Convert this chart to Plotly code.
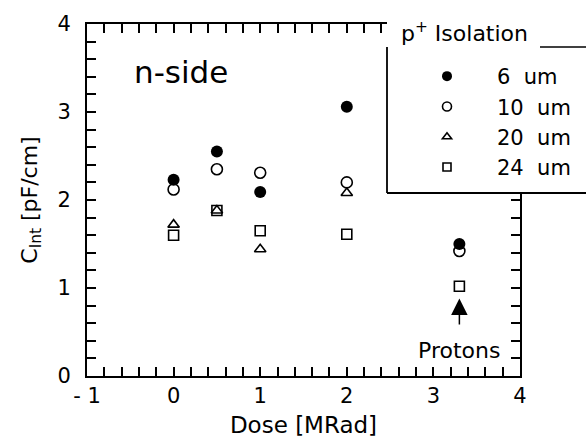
import plotly.graph_objects as go

# ---- data ----
dose = [0, 0.5, 1, 2, 3.3]
c_6um = [2.23, 2.55, 2.09, 3.06, 1.50]
c_10um = [2.12, 2.35, 2.31, 2.20, 1.42]
dose_20 = [0, 0.5, 1, 2]
c_20um = [1.72, 1.88, 1.44, 2.08]
c_24um = [1.60, 1.88, 1.65, 1.61, 1.02]

series_names = ["6\u00a0\u00a0um", "10\u00a0\u00a0um", "20\u00a0\u00a0um", "24\u00a0\u00a0um"]
x_label_alias = {"\u22121": "-\u00a01", "-1": "-\u00a01", "\u22121.0": "-\u00a01", "0.0": "0",
                 "1.0": "1", "2.0": "2", "3.0": "3", "4.0": "4"}
y_label_alias = {"0.0": "0", "1.0": "1", "2.0": "2", "3.0": "3", "4.0": "4"}
proton_dose = 3.3

FONT = "DejaVu Sans"
W, H = 586, 445
L, R, T, B = 87, 66, 24, 69

def px_x(p):
    return (p - L) / (W - L - R)

def px_y(p):
    return (H - B - p) / (H - T - B)

fig = go.Figure()

styles = [
    dict(symbol="circle", size=12, color="black", line=dict(width=0)),
    dict(symbol="circle-open", size=11, color="black", line=dict(width=1.6)),
    dict(symbol="triangle-up-open", size=10, color="black", line=dict(width=1.6)),
    dict(symbol="square-open", size=10, color="black", line=dict(width=1.6)),
]
legend_sizes = [10, 9, 8, 8]
xs = [dose, dose, dose_20, dose]
ys = [c_6um, c_10um, c_20um, c_24um]

for i in range(4):
    fig.add_trace(go.Scatter(x=xs[i], y=ys[i], mode="markers", marker=styles[i],
                             showlegend=False, hoverinfo="skip"))
for i in range(4):
    st = dict(styles[i])
    st["size"] = legend_sizes[i]
    fig.add_trace(go.Scatter(x=[None], y=[None], mode="markers", marker=st,
                             name=series_names[i], showlegend=True))

axis_common = dict(
    ticks="inside", ticklen=9, tickwidth=1.6, tickcolor="#000000",
    dtick=0.2, tick0=0, ticklabelstep=5,
    showline=True, linewidth=2, linecolor="#000000", mirror="ticks",
    showgrid=False, zeroline=False,
    tickfont=dict(family=FONT, size=21, color="black"),
)

fig.update_xaxes(range=[-1, 4], labelalias=x_label_alias,
                 title=dict(text="Dose [MRad]", font=dict(family=FONT, size=23, color="black"), standoff=10),
                 **axis_common)
fig.update_yaxes(range=[0, 4], labelalias=y_label_alias, ticklabelstandoff=10,
                 title=dict(text="C<sub>Int</sub> [pF/cm]", font=dict(family=FONT, size=22, color="black"), standoff=14),
                 **axis_common)

# legend box (white panel covering the top-right corner)
bx0, by0, by1 = px_x(387), px_y(193), px_y(47)
fig.add_shape(type="rect", xref="paper", yref="paper", x0=bx0, x1=1.3, y0=by0, y1=1.2,
              fillcolor="white", line=dict(width=0), layer="above")
fig.add_shape(type="line", xref="paper", yref="paper", x0=bx0, x1=bx0, y0=by0, y1=by1,
              line=dict(color="black", width=1.8), layer="above")
fig.add_shape(type="line", xref="paper", yref="paper", x0=bx0, x1=1.3, y0=by0, y1=by0,
              line=dict(color="black", width=1.8), layer="above")
fig.add_shape(type="line", xref="paper", yref="paper", x0=px_x(540), x1=1.3, y0=by1, y1=by1,
              line=dict(color="black", width=1.5), layer="above")

fig.add_annotation(text="p<sup>+</sup> Isolation", xref="paper", yref="paper",
                   x=px_x(399), y=px_y(32), xanchor="left", yanchor="middle", showarrow=False,
                   font=dict(family=FONT, size=22, color="black"))

fig.add_annotation(text="n-side", x=0.08, y=3.45, showarrow=False,
                   font=dict(family=FONT, size=31, color="black"))

fig.add_annotation(text="Protons", x=proton_dose, y=0.88, ax=0, ay=52,
                   showarrow=True, arrowhead=2, arrowsize=2.2, arrowwidth=1.5, arrowcolor="black",
                   startstandoff=12,
                   font=dict(family=FONT, size=22, color="black"))

fig.update_layout(
    template="none",
    width=W, height=H,
    margin=dict(l=L, r=R, t=T, b=B, autoexpand=False),
    paper_bgcolor="white", plot_bgcolor="white",
    legend=dict(x=px_x(397), y=px_y(56), xanchor="left", yanchor="top",
                bgcolor="rgba(0,0,0,0)", borderwidth=0, itemwidth=90,
                font=dict(family=FONT, size=21, color="black")),
)

fig.write_html("out.html", config={"displayModeBar": False},
               post_script="document.body.style.margin='0';")
